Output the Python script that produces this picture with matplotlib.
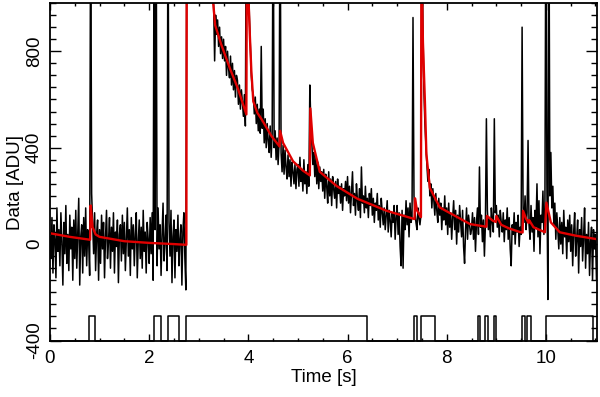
import numpy as np
import matplotlib
matplotlib.use('Agg')
import matplotlib.pyplot as plt
from matplotlib.ticker import MultipleLocator

plt.rcParams['font.family'] = ['Liberation Sans', 'DejaVu Sans']
plt.rcParams['axes.unicode_minus'] = False

# sampled signal, one value every 0.02 s (values above 1000 run off the top)
dt = 0.02
data = [
    30, -60, 110, -120, 80, 20, -140, 150, -30, 60, -90, 130, 10, -170, 90, -40, 160, -80, 40, -110, 120, -20, 70, -150, 100,
    -60, 140, -100, 50, 190, -170, 30, 80, -120, 110, -50, 150, -90, 60, 20, -130, 1500, 210, 90, -40, 130, -110, 40, 100, -150,
    60, -80, 120, -20, 90, -140, 30, 140, -60, 10, 110, -100, 70, -30, 130, -120, 50, -10, 100, -160, 40, 80, -70, 120, -40,
    90, -110, 20, 150, -50, 60, -130, 110, -20, 80, -90, 40, 130, -140, 10, 100, -60, 70, -100, 140, -30, 50, -120, 90, 20,
    -80, 110, -40, 130, -150, 1500, 60, 1500, -90, 150, -20, 80, -130, 40, 170, -70, 10, 120, -110, 1500, 90, -50, 140, -160, 30,
    100, -140, 60, -30, 120, -90, 20, 80, -170, 50, 130, -60, -190, 1400, 1600, 1500, 1700, 1450, 1600, 1550, 1500, 1650, 1400, 1500, 1450,
    1400, 1300, 1500, 1350, 1250, 1400, 1300, 1200, 1350, 1250, 1150, 1200, 1100, 1250, 1050, 990, 760, 950, 870, 930, 820, 900, 790, 860, 770,
    850, 760, 820, 700, 800, 730, 690, 780, 660, 750, 640, 720, 610, 700, 680, 580, 660, 560, 640, 590, 530, 620, 490, 1500, 1500,
    1200, 950, 820, 700, 640, 620, 540, 610, 500, 580, 470, 560, 460, 820, 480, 560, 420, 520, 400, 500, 430, 380, 490, 360, 460,
    1500, 400, 470, 350, 440, 330, 420, 1500, 380, 300, 410, 290, 390, 320, 270, 370, 280, 350, 240, 340, 300, 250, 330, 230, 310,
    330, 240, 360, 260, 310, 220, 350, 250, 300, 210, 330, 240, 660, 500, 420, 330, 380, 280, 360, 250, 340, 230, 320, 260, 300,
    220, 310, 190, 290, 240, 170, 300, 200, 270, 160, 280, 230, 190, 260, 150, 270, 210, 240, 170, 250, 140, 230, 200, 260, 180,
    280, 170, 240, 130, 220, 300, 160, 210, 120, 250, 180, 140, 230, 110, 320, 170, 200, 130, 240, 150, 190, 110, 210, 160, 230,
    120, 190, 90, 170, 140, 210, 100, 160, 70, 190, 130, 80, 150, 60, 120, 180, 50, 140, 100, 30, 130, 90, 160, 20, 110,
    160, 40, 130, -10, -90, 140, -100, 120, 60, 180, 80, 150, 30, 170, 90, 110, 940, 200, 130, 90, 60, 150, 110, 80, 120,
    1500, 900, 640, 500, 410, 330, 260, 310, 200, 250, 150, 230, 180, 120, 210, 140, 90, 190, 120, 170, 60, 150, 100, 200, 80,
    150, 40, 170, 70, 130, 20, 110, 180, 60, 140, 0, 120, 50, 160, 90, 30, 140, -10, -80, 60, 150, 20, 120, 80, 40,
    60, 130, 20, 110, -30, 90, 150, 40, 320, 70, 120, 10, 100, -50, 80, 520, 140, 60, 110, 30, 150, 90, 50, 520, 130,
    160, 70, 120, 30, 140, 90, 50, 130, 10, 100, 60, 150, 20, 110, -20, -90, 80, 40, 130, 0, 90, 50, 120, -10, 70,
    40, 900, 150, 90, 200, 60, 130, 430, 80, 20, 160, 50, 110, -30, 140, 70, 250, 30, 180, -40, 120, 90, 220, 40, 150,
    1500, 250, -230, 1500, 200, 380, 150, 240, 80, 170, 20, 130, 60, -20, 110, 0, 90, -40, 140, 30, 70, -60, 100, 10, 120,
    -30, 80, -90, 50, 130, -50, 20, 100, -120, 60, -10, 110, -70, 30, 150, -100, 40, -40, 90, -130, 10, 70, -150, 60, -20,
    40, -150, -150,
]

# model curve (red), read at its knees
model_t = [0.0, 0.4, 0.81, 0.82, 0.86, 0.92, 1.0, 1.5, 2.0, 2.5, 2.75, 2.76,
           3.29, 3.33, 3.45, 3.63, 3.79, 3.96, 3.97, 4.03, 4.06, 4.10, 4.18, 4.27, 4.47,
           4.63, 4.64, 4.70, 4.90, 5.10, 5.24, 5.25, 5.30, 5.44, 5.78, 6.20, 6.79,
           7.35, 7.36, 7.40, 7.48, 7.49, 7.52, 7.56, 7.59, 7.66, 7.86, 8.47, 8.80, 8.81,
           8.93, 8.99, 9.00, 9.10, 9.27, 9.48, 9.53, 9.54, 9.60, 9.65, 9.66, 9.75, 9.98,
           10.01, 10.10, 10.28, 10.60, 11.04]
model_v = [45, 30, 18, 160, 70, 40, 30, 12, 5, 0, -3, 1500,
           1004, 909, 830, 728, 645, 538, 1200, 867, 720, 592, 545, 517, 447,
           405, 470, 420, 344, 305, 285, 563, 420, 300, 241, 188, 138,
           104, 190, 140, 112, 1200, 839, 592, 373, 233, 152, 83, 72, 117,
           97, 92, 117, 80, 64, 50, 48, 138, 105, 88, 100, 70, 49,
           172, 90, 49, 35, 20]

# flag intervals (start, end) in seconds
flag_start = [0.79, 2.10, 2.38, 2.74, 7.34, 7.49, 8.63, 8.78, 8.95, 9.51, 9.62, 10.00]
flag_end = [0.91, 2.24, 2.61, 6.40, 7.41, 7.76, 8.68, 8.84, 9.00, 9.58, 9.69, 10.95]
flag_lo = -400
flag_hi = -300

t = np.arange(len(data)) * dt

fx = [0.0]
fy = [flag_lo]
for a, b in zip(flag_start, flag_end):
    fx += [a, a, b, b]
    fy += [flag_lo, flag_hi, flag_hi, flag_lo]
fx.append(t[-1])
fy.append(flag_lo)

fig = plt.figure(figsize=(6, 3.97), dpi=100)
ax = fig.add_axes([0.0833, 0.1423, 0.9125, 0.850])

ax.plot(t, data, color='black', lw=1.1)
ax.plot(model_t, model_v, color='#e00000', lw=1.7)
ax.plot(fx, fy, color='black', lw=1.1, clip_on=False)

ax.set_xlim(0, 11.04)
ax.set_ylim(-400, 1000)
ax.xaxis.set_major_locator(MultipleLocator(2))
ax.xaxis.set_minor_locator(MultipleLocator(0.5))
ax.yaxis.set_major_locator(MultipleLocator(400))
ax.yaxis.set_minor_locator(MultipleLocator(50))

fs = 13.5
ax.tick_params(axis='x', which='both', direction='in', top=True, bottom=True,
               labelsize=fs, pad=7)
ax.tick_params(axis='x', which='major', length=5, width=1)
ax.tick_params(axis='x', which='minor', length=2.5, width=1)
ax.tick_params(axis='y', which='both', direction='in', left=True, right=True,
               labelsize=fs, pad=5, labelrotation=90)
ax.tick_params(axis='y', which='major', length=8, width=1)
ax.tick_params(axis='y', which='minor', length=4, width=1)
for lab in ax.get_yticklabels():
    lab.set_va('center')

for s in ax.spines.values():
    s.set_linewidth(1.3)

ax.set_xlabel('Time [s]', fontsize=fs, labelpad=1)
ax.set_ylabel('Data [ADU]', fontsize=fs)
ax.yaxis.set_label_coords(-0.048, 0.467)

fig.savefig('out.png', dpi=100)
